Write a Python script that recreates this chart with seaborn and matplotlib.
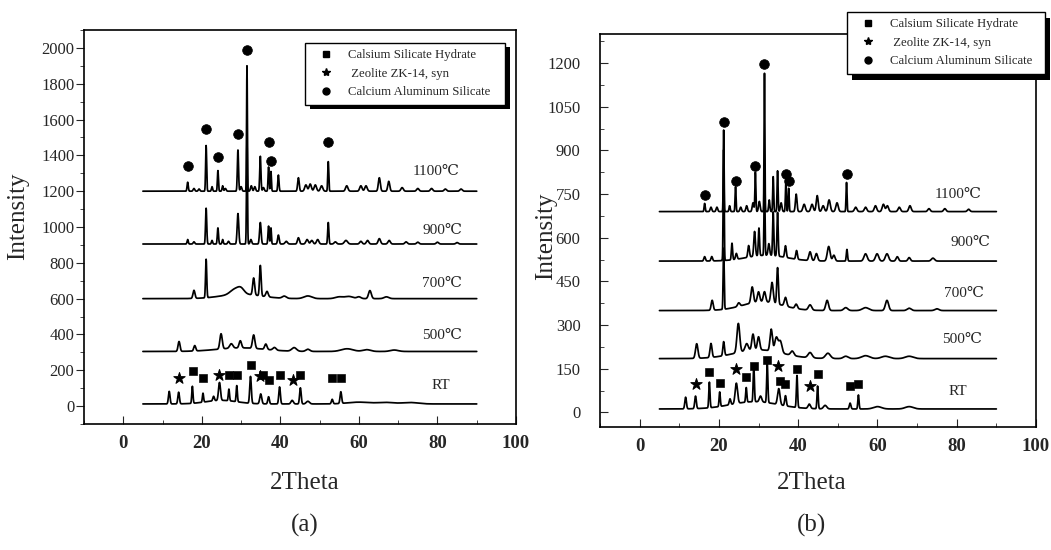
import numpy as np
import pandas as pd
import matplotlib
matplotlib.use('Agg')
import matplotlib.pyplot as plt
import seaborn as sns
from matplotlib.lines import Line2D
from matplotlib.patches import Rectangle
from matplotlib.ticker import MultipleLocator

# peak lists: (2theta, height above baseline, width)
# ---- panel (a)
a_base = {'RT': 12, '500': 305, '700': 600, '900': 905, '1100': 1200}
a_rt = [(11.7, 70, .2), (14.1, 65, .2), (17.6, 95, .15), (20.3, 50, .15), (23.0, 25, .2),
        (24.5, 100, .25), (26.9, 65, .15), (28.9, 90, .15), (32.4, 150, .2), (35.0, 55, .25),
        (37.0, 40, .2), (39.8, 95, .2), (43.0, 20, .3), (45.1, 90, .2), (47.0, 15, .4),
        (53.2, 25, .2), (55.4, 65, .2), (25.0, 20, 4), (60, 10, 3), (67, 8, 2), (73, 8, 2)]
a_500 = [(14.2, 55, .25), (18.2, 30, .25), (24.9, 85, .3), (27.5, 25, .4), (29.8, 40, .3),
         (33.2, 75, .3), (36.3, 30, .3), (38.5, 15, .4), (43.5, 20, .6), (47.0, 12, .5),
         (57.0, 15, 1.5), (62, 10, 1), (69, 8, 1), (30, 20, 6)]
a_700 = [(18.0, 45, .25), (21.1, 215, .15), (28.5, 30, 1.2), (30.0, 25, .8), (33.2, 95, .25),
         (34.9, 170, .2), (36.6, 30, .3), (41, 12, .5), (47.0, 15, 1), (55, 10, 1),
         (57.5, 12, 1), (60, 10, .5), (62.8, 45, .35), (67, 10, .6), (30, 25, 5)]
a_900 = [(16.4, 25, .15), (18.0, 12, .2), (21.1, 200, .15), (22.6, 20, .15), (24.1, 90, .15),
         (25.3, 25, .15), (26.8, 15, .2), (29.2, 170, .2), (31.5, 580, .12), (32.5, 25, .2),
         (34.9, 120, .2), (37.0, 100, .15), (37.6, 90, .12), (39.5, 50, .2), (41.5, 15, .3),
         (44.6, 35, .25), (46.8, 25, .3), (48, 20, .3), (49.5, 25, .3), (52.2, 120, .15),
         (54, 12, .3), (56.7, 20, .4), (60.5, 15, .3), (62.2, 20, .3), (65.2, 30, .3),
         (67.7, 20, .3), (72, 12, .3), (75, 10, .3), (80, 10, .3), (85, 8, .3)]
a_1100 = [(16.4, 50, .15), (18.0, 15, .2), (19.3, 12, .2), (21.1, 255, .13), (22.6, 25, .15),
          (24.1, 115, .13), (25.3, 30, .15), (26.0, 15, .2), (29.2, 230, .15), (30.0, 25, .2),
          (31.5, 700, .1), (32.6, 30, .2), (33.5, 25, .2), (34.9, 195, .15), (35.7, 20, .2),
          (37.0, 135, .13), (37.6, 110, .12), (39.5, 90, .15), (44.6, 75, .2), (46.5, 35, .3),
          (47.6, 40, .3), (48.9, 35, .3), (50.5, 30, .3), (52.2, 165, .13), (56.9, 30, .3),
          (60.5, 30, .3), (61.8, 30, .3), (65.2, 75, .25), (67.6, 55, .25), (71, 20, .3),
          (75, 15, .3), (78.5, 15, .3), (82, 12, .3), (86, 12, .3)]

# ---- panel (b)
b_base = {'RT': 12, '500': 185, '700': 350, '900': 520, '1100': 690}
b_rt = [(11.6, 40, .2), (14.1, 43, .2), (17.6, 88, .15), (20.2, 50, .15), (22.8, 20, .2),
        (24.4, 70, .3), (26.9, 50, .15), (28.8, 125, .15), (30.5, 20, .3), (32.2, 135, .15),
        (35.1, 55, .3), (36.8, 35, .2), (39.7, 110, .15), (42.8, 15, .3), (44.9, 78, .15),
        (46.8, 12, .4), (53.1, 20, .2), (55.2, 48, .15), (60, 8, 1), (68, 8, 1), (29, 25, 6)]
b_500 = [(14.4, 50, .3), (18.0, 48, .25), (21.2, 48, .2), (24.9, 100, .35), (27, 25, .4),
         (28.6, 55, .3), (30.0, 45, .3), (33.2, 75, .3), (34.5, 50, .4), (35.5, 40, .4),
         (38.5, 15, .4), (43.0, 18, .5), (47.5, 18, .6), (52, 8, .6), (57, 10, 1),
         (62, 8, 1), (68, 8, 1), (30, 30, 6)]
b_700 = [(18.3, 34, .25), (21.2, 210, .13), (25, 12, .3), (28.4, 55, .3), (30.0, 35, .3),
         (31.5, 35, .3), (33.4, 70, .3), (34.8, 125, .2), (36.8, 30, .3), (39.5, 15, .3),
         (43.0, 18, .4), (47.3, 35, .35), (52, 10, .5), (57, 10, .8), (62.4, 35, .4),
         (68, 8, .5), (75, 6, .5), (31, 30, 5)]
b_900 = [(16.4, 15, .2), (18.2, 15, .2), (21.2, 380, .12), (23.3, 57, .15), (24.4, 20, .2),
         (27.5, 40, .2), (29.0, 85, .2), (30.1, 95, .15), (31.5, 260, .12), (32.6, 40, .2),
         (33.7, 150, .15), (34.8, 150, .15), (36.8, 40, .2), (39.6, 30, .2), (43.0, 30, .3),
         (44.6, 25, .3), (47.7, 50, .35), (49, 20, .3), (52.3, 40, .15), (57, 25, .4),
         (59.9, 25, .4), (62.4, 25, .4), (65, 15, .3), (68, 12, .3), (74, 10, .4), (32, 20, 5)]
b_1100 = [(16.4, 28, .13), (18.0, 15, .2), (19.5, 15, .2), (21.2, 280, .1), (22.7, 20, .15),
          (24.2, 85, .12), (25.5, 15, .2), (27.0, 20, .2), (28.6, 30, .2), (29.2, 135, .12),
          (30.2, 35, .2), (31.5, 475, .1), (32.7, 40, .15), (33.7, 120, .12), (34.8, 140, .12),
          (35.7, 30, .2), (36.9, 100, .12), (37.6, 80, .12), (39.5, 60, .2), (41.5, 25, .3),
          (43.5, 25, .3), (44.8, 55, .25), (46.3, 20, .3), (47.8, 40, .3), (49.8, 30, .3),
          (52.2, 100, .12), (54.5, 15, .3), (57, 15, .3), (59.5, 20, .3), (61.5, 25, .3),
          (62.5, 20, .3), (65.5, 15, .3), (68.2, 20, .3), (73, 10, .3), (77, 10, .3), (83, 8, .3)]

# phase markers
a_circ_x = [16.4, 21.1, 24.1, 29.2, 31.5, 37.0, 37.6, 52.2]
a_circ_y = [1340, 1545, 1390, 1520, 1990, 1475, 1370, 1475]
a_star_x = [14.1, 24.5, 34.9, 43.1]
a_star_y = [155, 176, 168, 145]
a_sq_x = [17.7, 20.4, 26.9, 29.0, 32.4, 35.6, 37.0, 39.8, 44.9, 53.2, 55.4]
a_sq_y = [195, 158, 176, 176, 228, 176, 145, 176, 176, 158, 158]

b_circ_x = [16.4, 21.2, 24.2, 29.2, 31.5, 36.9, 37.6, 52.2]
b_circ_y = [748, 999, 796, 847, 1196, 819, 796, 819]
b_star_x = [14.1, 24.4, 34.8, 43.0]
b_star_y = [99, 150, 161, 90]
b_sq_x = [17.6, 20.3, 26.9, 28.8, 32.2, 35.5, 36.8, 39.7, 44.9, 53.1, 55.2]
b_sq_y = [139, 102, 121, 159, 179, 107, 99, 150, 133, 90, 99]

temps = ['RT', '500', '700', '900', '1100']
temp_labels = ['RT', '500℃', '700℃', '900℃', '1100℃']
a_lab_x = [80.9, 81.2, 81.2, 81.2, 79.7]
a_lab_y = [117, 394, 685, 978, 1311]
b_lab_x = [80.4, 81.3, 81.7, 83.4, 80.4]
b_lab_y = [73, 250, 410, 583, 747]

phase_names = ['Calsium Silicate Hydrate', ' Zeolite ZK-14, syn', 'Calcium Aluminum Silicate']

two_theta = np.arange(5, 90.001, 0.05)


def pattern(base, peaks):
    y = np.full_like(two_theta, float(base))
    for pos, h, w in peaks:
        y += h * np.exp(-0.5 * ((two_theta - pos) / w) ** 2)
    return y


sns.set_style('ticks')
serif = ['Liberation Serif', 'DejaVu Serif', 'DejaVu Sans']
plt.rcParams['font.family'] = serif
plt.rcParams['axes.linewidth'] = 1.2

fig = plt.figure(figsize=(10.51, 5.5), dpi=100)
axa = fig.add_axes([84 / 1051, 1 - 424 / 550, 432 / 1051, 394 / 550])
axb = fig.add_axes([600 / 1051, 1 - 427 / 550, 436 / 1051, 393 / 550])

panels = [
    (axa, a_base, [a_rt, a_500, a_700, a_900, a_1100],
     (a_circ_x, a_circ_y, a_star_x, a_star_y, a_sq_x, a_sq_y), a_lab_x, a_lab_y),
    (axb, b_base, [b_rt, b_500, b_700, b_900, b_1100],
     (b_circ_x, b_circ_y, b_star_x, b_star_y, b_sq_x, b_sq_y), b_lab_x, b_lab_y),
]

for ax, base, peak_sets, marks, lab_x, lab_y in panels:
    ax.set_facecolor('none')
    for t, pk in zip(temps, peak_sets):
        df = pd.DataFrame({'2theta': two_theta, 'I': pattern(base[t], pk)})
        sns.lineplot(data=df, x='2theta', y='I', ax=ax, color='black', lw=1.25,
                     estimator=None, sort=False)
    cx, cy, sx, sy, qx, qy = marks
    sns.scatterplot(x=cx, y=cy, ax=ax, marker='o', s=48, color='black', edgecolor='black', zorder=3)
    sns.scatterplot(x=sx, y=sy, ax=ax, marker='*', s=75, color='black', edgecolor='black', zorder=3)
    sns.scatterplot(x=qx, y=qy, ax=ax, marker='s', s=30, color='black', edgecolor='black', zorder=3)
    for lx, ly, txt in zip(lab_x, lab_y, temp_labels):
        ax.text(lx, ly, txt, fontsize=11, ha='center', va='center', family=serif)
    ax.set_xlim(-10, 100)
    ax.xaxis.set_major_locator(MultipleLocator(20))
    ax.xaxis.set_minor_locator(MultipleLocator(10))
    ax.tick_params(axis='x', which='both', direction='in', labelsize=13.5, pad=8)
    for lb in ax.get_xticklabels():
        lb.set_fontweight('bold')
    ax.set_xlabel('')
    ax.set_ylabel('')
    for sp in ax.spines.values():
        sp.set_visible(True)
        sp.set_color('black')

axa.set_ylim(-100, 2100)
axa.yaxis.set_major_locator(MultipleLocator(200))
axa.yaxis.set_minor_locator(MultipleLocator(100))
axa.tick_params(axis='y', which='major', direction='out', length=6, pad=1, labelsize=12)
axa.tick_params(axis='y', which='minor', direction='out', length=3)
axa.tick_params(axis='x', which='major', length=6)
axa.tick_params(axis='x', which='minor', length=3)

axb.set_ylim(-50, 1300)
axb.yaxis.set_major_locator(MultipleLocator(150))
axb.yaxis.set_minor_locator(MultipleLocator(75))
axb.set_yticks([0, 150, 300, 450, 600, 750, 900, 1050, 1200])
axb.tick_params(axis='y', which='major', direction='in', length=6, pad=14, labelsize=12)
axb.tick_params(axis='y', which='minor', direction='in', length=3)
axb.tick_params(axis='x', which='major', length=6)
axb.tick_params(axis='x', which='minor', length=3)

# axis titles and panel letters
fig.text(18 / 1051, 1 - 216 / 550, 'Intensity', rotation=90, fontsize=18, ha='center', va='center')
fig.text(546 / 1051, 1 - 236 / 550, 'Intensity', rotation=90, fontsize=18, ha='center', va='center')
fig.text(305 / 1051, 1 - 483 / 550, '2Theta', fontsize=18, ha='center', va='center')
fig.text(812 / 1051, 1 - 483 / 550, '2Theta', fontsize=18, ha='center', va='center')
fig.text(305 / 1051, 1 - 525 / 550, '(a)', fontsize=18, ha='center', va='center')
fig.text(812 / 1051, 1 - 525 / 550, '(b)', fontsize=18, ha='center', va='center')

# legends with a solid drop shadow
handles = [Line2D([], [], ls='none', marker='s', ms=4, color='black'),
           Line2D([], [], ls='none', marker='*', ms=6, color='black'),
           Line2D([], [], ls='none', marker='o', ms=5, color='black')]
legs = []
for x0, y0, w, shift in [(305, 43, 200, (5, 4)), (847, 12, 198, (5, 6))]:
    leg = fig.legend(handles, phase_names, loc='upper left', mode='expand',
                     bbox_to_anchor=(x0 / 1051, 1 - y0 / 550, w / 1051, 0.0),
                     borderaxespad=0, frameon=True, fancybox=False,
                     edgecolor='black', framealpha=1, borderpad=0.5, labelspacing=0.5,
                     handlelength=2.3, handletextpad=0.6, prop={'family': serif, 'size': 9.2})
    leg.get_frame().set_linewidth(1.0)
    legs.append((leg, shift))

fig.canvas.draw()
for leg, (dx, dy) in legs:
    bb = leg.get_window_extent().transformed(fig.transFigure.inverted())
    fig.add_artist(Rectangle((bb.x0 + dx / 1051, bb.y0 - dy / 550), bb.width, bb.height,
                             transform=fig.transFigure, facecolor='black', edgecolor='none',
                             zorder=4))

fig.savefig('out.png', dpi=100)
